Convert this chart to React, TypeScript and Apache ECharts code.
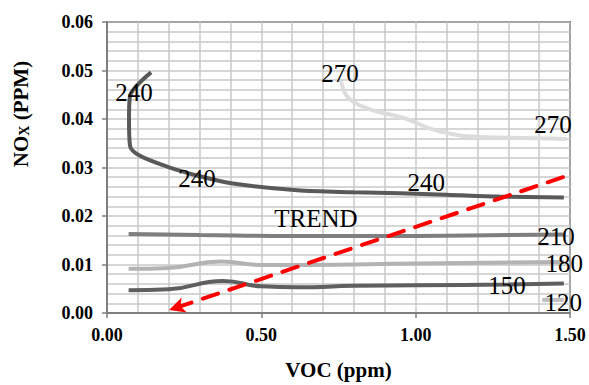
import React, { useEffect, useRef } from 'react';
import * as echarts from 'echarts';

// Curves (VOC ppm, NOx ppm)
const curve240 = [
  [0.143, 0.0496], [0.0745, 0.0447], [0.0713, 0.040], [0.0745, 0.0345], [0.107, 0.0324],
  [0.194, 0.0302], [0.301, 0.0282], [0.408, 0.0267], [0.616, 0.0253], [0.8, 0.0249],
  [0.95, 0.0247], [1.1, 0.0244], [1.27, 0.0240], [1.48, 0.0238],
];
const curve270 = [
  [0.758, 0.0478], [0.777, 0.0447], [0.81, 0.0431], [0.852, 0.0420], [0.884, 0.0414],
  [0.972, 0.0400], [1.047, 0.0380], [1.134, 0.0367], [1.208, 0.0363], [1.49, 0.0359],
];
const curve210 = [[0.07, 0.0163], [0.3, 0.0161], [0.6, 0.0159], [1.0, 0.0159], [1.3, 0.0161], [1.48, 0.0162]];
const curve180 = [[0.07, 0.0091], [0.2, 0.0093], [0.37, 0.0106], [0.5, 0.0099], [0.65, 0.0099], [1.0, 0.0102], [1.48, 0.0105]];
const curve150 = [[0.07, 0.0047], [0.2, 0.0049], [0.376, 0.0066], [0.5, 0.0055], [0.62, 0.0053], [0.8, 0.0056], [1.0, 0.0057], [1.3, 0.0059], [1.48, 0.0061]];
const curve120 = [[1.41, 0.0027], [1.48, 0.0027]];

const trendStart = [1.477, 0.028];
const trendEnd = [0.201, 0.0006];

// Curve labels
const labelTexts = ['240', '240', '240', '270', '270', 'TREND', '210', '180', '150', '120'];
const labelX = [0.0875, 0.2916, 1.034, 0.755, 1.445, 0.677, 1.455, 1.481, 1.296, 1.478];
const labelY = [0.0455, 0.0278, 0.0269, 0.0494, 0.0388, 0.0194, 0.0157, 0.0102, 0.0057, 0.0022];

const xTicks = ['0.00', '0.50', '1.00', '1.50'];
const yTicks = ['0.00', '0.01', '0.02', '0.03', '0.04', '0.05', '0.06'];

const SERIF = 'Liberation Serif';

export default function App() {
  const ref = useRef<HTMLDivElement>(null);
  useEffect(() => {
    if (!ref.current) return;
    document.body.style.margin = '0';
    const chart = echarts.init(ref.current, null, { renderer: 'svg' });
    const curve = (name: string, data: number[][], color: string, smooth: number) => ({
      name,
      type: 'line',
      data,
      smooth,
      symbol: 'none',
      silent: true,
      lineStyle: { color, width: 4 },
      z: 3,
    });
    chart.setOption({
      animation: false,
      textStyle: { fontFamily: SERIF },
      grid: {
        left: 107, right: 19, top: 22, bottom: 69,
        show: true, borderColor: '#000', borderWidth: 1.5, backgroundColor: 'transparent',
      },
      xAxis: {
        type: 'value', min: 0, max: 1.5, interval: 0.5,
        name: 'VOC (ppm)', nameLocation: 'middle', nameGap: 46,
        nameTextStyle: { fontFamily: SERIF, fontWeight: 'bold', fontSize: 21, color: '#000' },
        axisLine: { show: true, lineStyle: { color: '#7f7f7f', width: 2 } },
        axisTick: { show: true, length: 5, lineStyle: { color: '#7f7f7f', width: 1.5 } },
        axisLabel: {
          margin: 13, fontFamily: SERIF, fontWeight: 'bold', fontSize: 18, color: '#000',
          formatter: (v: number) => xTicks[Math.round(v / 0.5)] ?? v.toFixed(2),
        },
        splitLine: { show: true, lineStyle: { color: '#c8c8c8', width: 1.5 } },
        minorTick: { show: false, splitNumber: 5 },
        minorSplitLine: { show: true, lineStyle: { color: '#c8c8c8', width: 1.5 } },
      },
      yAxis: {
        type: 'value', min: 0, max: 0.06, interval: 0.01,
        axisLine: { show: true, lineStyle: { color: '#7f7f7f', width: 2 } },
        axisTick: { show: true, length: 5, lineStyle: { color: '#7f7f7f', width: 1.5 } },
        axisLabel: {
          margin: 14, fontFamily: SERIF, fontWeight: 'bold', fontSize: 18, color: '#000',
          formatter: (v: number) => yTicks[Math.round(v / 0.01)] ?? v.toFixed(2),
        },
        splitLine: { show: true, lineStyle: { color: '#c8c8c8', width: 1.5 } },
        minorTick: { show: false, splitNumber: 5 },
        minorSplitLine: { show: true, lineStyle: { color: '#c8c8c8', width: 1.5 } },
      },
      graphic: [
        {
          type: 'text',
          x: 21, y: 114, rotation: Math.PI / 2,
          style: {
            text: '{a|NO}{b|X}{a| (PPM)}',
            align: 'center', verticalAlign: 'middle',
            fill: '#000',
            rich: {
              a: { fontFamily: SERIF, fontWeight: 'bold', fontSize: 21, fill: '#000', verticalAlign: 'bottom' },
              b: { fontFamily: SERIF, fontWeight: 'bold', fontSize: 14, fill: '#000', verticalAlign: 'bottom' },
            },
          },
          z: 10,
        },
      ],
      series: [
        curve('270', curve270, '#dcdcdc', 0.4),
        curve('120', curve120, '#c0c0c0', 0),
        curve('180', curve180, '#b3b3b3', 0.5),
        curve('210', curve210, '#7f7f7f', 0.5),
        curve('150', curve150, '#5f5f5f', 0.5),
        curve('240', curve240, '#595959', 0.3),
        {
          name: 'TREND',
          type: 'line',
          data: [],
          silent: true,
          z: 4,
          markLine: {
            silent: true,
            animation: false,
            symbol: ['none', 'arrow'],
            symbolSize: [12, 16],
            label: { show: false },
            lineStyle: { color: '#ff0000', width: 4, type: [16, 12], cap: 'round' },
            itemStyle: { color: '#ff0000' },
            data: [[{ coord: trendStart }, { coord: trendEnd }]],
          },
        },
        {
          name: 'labels',
          type: 'scatter',
          silent: true,
          symbol: 'circle',
          symbolSize: 1,
          itemStyle: { color: 'rgba(0,0,0,0)' },
          z: 6,
          label: {
            show: true, position: 'inside', formatter: '{b}',
            fontFamily: SERIF, fontSize: 25, color: '#000',
            textBorderWidth: 0, opacity: 1,
          },
          data: labelTexts.map((t, i) => ({ name: t, value: [labelX[i], labelY[i]] })),
        },
      ],
    });
    return () => chart.dispose();
  }, []);
  return <div ref={ref} style={{ width: 589, height: 385 }} />;
}
